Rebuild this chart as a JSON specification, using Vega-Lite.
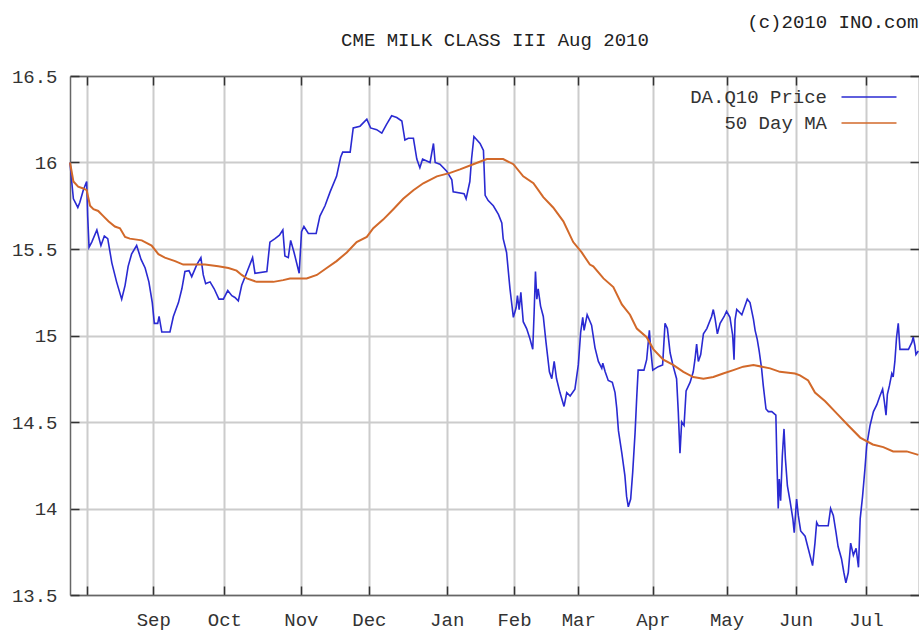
{
  "$schema": "https://vega.github.io/schema/vega-lite/v6.json",
  "width": 849,
  "height": 519,
  "autosize": {"type": "none"},
  "padding": {"left": 70, "top": 76, "right": 0, "bottom": 35},
  "background": "white",
  "title": {"text": "(c)2010 INO.com", "anchor": "end", "font": "Liberation Mono", "fontSize": 19, "fontWeight": "normal", "color": "#222", "offset": -2, "dx": -4},
  "datasets": {
    "price": [
      {"d":0,"v":16.00},{"d":0.5,"v":15.89},{"d":1.0,"v":15.79},{"d":2.3,"v":15.74},{"d":2.9,"v":15.77},{"d":3.9,"v":15.84},{"d":4.9,"v":15.89},{"d":5.2,"v":15.69},{"d":5.6,"v":15.51},{"d":6.4,"v":15.54},{"d":7.9,"v":15.61},{"d":9.1,"v":15.52},{"d":10.1,"v":15.575},{"d":11.1,"v":15.56},{"d":12.3,"v":15.42},{"d":13.7,"v":15.31},{"d":15.2,"v":15.21},{"d":16.2,"v":15.29},{"d":17.1,"v":15.40},{"d":18.1,"v":15.47},{"d":19.6,"v":15.52},{"d":20.9,"v":15.44},{"d":22.1,"v":15.39},{"d":23.2,"v":15.31},{"d":24.2,"v":15.19},{"d":24.8,"v":15.07},{"d":25.8,"v":15.07},{"d":26.2,"v":15.11},{"d":27.0,"v":15.02},{"d":29.4,"v":15.02},{"d":30.4,"v":15.11},{"d":31.9,"v":15.19},{"d":32.9,"v":15.27},{"d":33.8,"v":15.37},{"d":35.0,"v":15.375},{"d":35.8,"v":15.34},{"d":37.3,"v":15.41},{"d":38.5,"v":15.45},{"d":39.2,"v":15.35},{"d":39.9,"v":15.30},{"d":41.2,"v":15.31},{"d":42.4,"v":15.27},{"d":43.8,"v":15.21},{"d":45.1,"v":15.21},{"d":46.4,"v":15.26},{"d":47.6,"v":15.23},{"d":48.5,"v":15.22},{"d":49.5,"v":15.20},{"d":50.5,"v":15.29},{"d":51.5,"v":15.34},{"d":53.7,"v":15.45},{"d":54.4,"v":15.36},{"d":57.9,"v":15.37},{"d":58.8,"v":15.54},{"d":60.3,"v":15.56},{"d":61.6,"v":15.58},{"d":62.6,"v":15.61},{"d":63.2,"v":15.46},{"d":64.2,"v":15.45},{"d":64.9,"v":15.55},{"d":65.9,"v":15.48},{"d":67.4,"v":15.36},{"d":68.1,"v":15.60},{"d":68.8,"v":15.63},{"d":70.1,"v":15.59},{"d":72.4,"v":15.59},{"d":73.5,"v":15.69},{"d":75.0,"v":15.75},{"d":76.5,"v":15.83},{"d":78.4,"v":15.92},{"d":79.6,"v":16.03},{"d":80.2,"v":16.06},{"d":82.4,"v":16.06},{"d":83.3,"v":16.20},{"d":85.3,"v":16.21},{"d":87.3,"v":16.25},{"d":88.4,"v":16.20},{"d":90.2,"v":16.19},{"d":91.7,"v":16.17},{"d":93.1,"v":16.22},{"d":94.6,"v":16.27},{"d":96.1,"v":16.26},{"d":97.6,"v":16.24},{"d":98.5,"v":16.13},{"d":99.5,"v":16.14},{"d":101.0,"v":16.14},{"d":102.0,"v":16.02},{"d":102.9,"v":15.97},{"d":103.7,"v":16.02},{"d":105.9,"v":16.00},{"d":106.9,"v":16.11},{"d":107.4,"v":16.00},{"d":108.8,"v":15.99},{"d":110.8,"v":15.95},{"d":112.3,"v":15.90},{"d":112.7,"v":15.83},{"d":115.9,"v":15.82},{"d":116.5,"v":15.79},{"d":117.6,"v":15.89},{"d":118.1,"v":16.02},{"d":118.8,"v":16.15},{"d":120.6,"v":16.11},{"d":121.6,"v":16.07},{"d":122.1,"v":15.81},{"d":123.0,"v":15.78},{"d":124.5,"v":15.75},{"d":126.0,"v":15.70},{"d":127.0,"v":15.65},{"d":127.4,"v":15.56},{"d":128.4,"v":15.48},{"d":129.4,"v":15.27},{"d":130.4,"v":15.105},{"d":131.2,"v":15.16},{"d":131.6,"v":15.23},{"d":132.1,"v":15.15},{"d":132.6,"v":15.25},{"d":133.3,"v":15.08},{"d":134.3,"v":15.04},{"d":135.3,"v":14.98},{"d":136.1,"v":14.92},{"d":136.5,"v":15.13},{"d":136.9,"v":15.37},{"d":137.3,"v":15.21},{"d":137.7,"v":15.27},{"d":138.4,"v":15.17},{"d":139.2,"v":15.11},{"d":140.0,"v":14.96},{"d":141.0,"v":14.79},{"d":141.7,"v":14.75},{"d":142.4,"v":14.85},{"d":143.1,"v":14.75},{"d":144.1,"v":14.67},{"d":145.3,"v":14.59},{"d":146.1,"v":14.67},{"d":147.1,"v":14.65},{"d":148.5,"v":14.69},{"d":149.5,"v":14.83},{"d":150.2,"v":15.02},{"d":150.8,"v":15.105},{"d":151.2,"v":15.03},{"d":152.1,"v":15.12},{"d":153.4,"v":15.06},{"d":154.4,"v":14.93},{"d":155.4,"v":14.85},{"d":156.4,"v":14.81},{"d":156.7,"v":14.84},{"d":157.4,"v":14.79},{"d":158.3,"v":14.74},{"d":159.5,"v":14.73},{"d":160.3,"v":14.67},{"d":160.8,"v":14.58},{"d":161.3,"v":14.45},{"d":162.3,"v":14.32},{"d":163.2,"v":14.19},{"d":163.7,"v":14.07},{"d":164.2,"v":14.01},{"d":164.9,"v":14.055},{"d":165.5,"v":14.21},{"d":166.2,"v":14.44},{"d":166.7,"v":14.65},{"d":167.1,"v":14.80},{"d":168.8,"v":14.80},{"d":169.6,"v":14.86},{"d":170.4,"v":15.03},{"d":170.8,"v":14.92},{"d":171.4,"v":14.80},{"d":173.0,"v":14.82},{"d":174.3,"v":14.83},{"d":175.0,"v":15.07},{"d":175.7,"v":15.04},{"d":176.5,"v":14.90},{"d":177.3,"v":14.83},{"d":178.4,"v":14.75},{"d":178.9,"v":14.56},{"d":179.4,"v":14.32},{"d":179.9,"v":14.50},{"d":180.6,"v":14.48},{"d":181.2,"v":14.68},{"d":182.4,"v":14.73},{"d":183.3,"v":14.79},{"d":183.8,"v":14.86},{"d":184.3,"v":14.95},{"d":184.8,"v":14.85},{"d":185.5,"v":14.89},{"d":186.3,"v":15.01},{"d":187.3,"v":15.04},{"d":188.7,"v":15.11},{"d":189.2,"v":15.15},{"d":189.7,"v":15.10},{"d":190.4,"v":15.01},{"d":191.2,"v":15.07},{"d":192.4,"v":15.11},{"d":193.1,"v":15.14},{"d":194.1,"v":15.105},{"d":194.9,"v":15.00},{"d":195.3,"v":14.86},{"d":195.6,"v":15.09},{"d":196.1,"v":15.15},{"d":197.6,"v":15.12},{"d":198.5,"v":15.17},{"d":199.2,"v":15.21},{"d":200.0,"v":15.19},{"d":201.0,"v":15.095},{"d":201.5,"v":15.03},{"d":202.1,"v":14.98},{"d":202.7,"v":14.91},{"d":203.4,"v":14.81},{"d":203.9,"v":14.71},{"d":204.7,"v":14.575},{"d":205.4,"v":14.56},{"d":206.4,"v":14.56},{"d":207.6,"v":14.54},{"d":207.9,"v":14.28},{"d":208.3,"v":14.00},{"d":208.6,"v":14.17},{"d":209.0,"v":14.045},{"d":209.5,"v":14.305},{"d":210.0,"v":14.46},{"d":210.4,"v":14.29},{"d":211.0,"v":14.13},{"d":211.8,"v":14.04},{"d":212.6,"v":13.94},{"d":213.0,"v":13.86},{"d":213.7,"v":14.055},{"d":214.2,"v":13.96},{"d":214.9,"v":13.87},{"d":216.2,"v":13.84},{"d":217.1,"v":13.77},{"d":218.4,"v":13.67},{"d":219.1,"v":13.80},{"d":219.6,"v":13.92},{"d":220.1,"v":13.90},{"d":223.0,"v":13.90},{"d":223.7,"v":14.00},{"d":224.5,"v":13.96},{"d":225.3,"v":13.86},{"d":225.9,"v":13.78},{"d":226.9,"v":13.71},{"d":227.6,"v":13.63},{"d":228.2,"v":13.57},{"d":228.9,"v":13.63},{"d":229.6,"v":13.80},{"d":230.4,"v":13.73},{"d":231.2,"v":13.77},{"d":231.9,"v":13.66},{"d":232.4,"v":13.94},{"d":233.1,"v":14.07},{"d":233.8,"v":14.23},{"d":234.3,"v":14.36},{"d":235.3,"v":14.48},{"d":236.3,"v":14.56},{"d":237.3,"v":14.60},{"d":238.2,"v":14.65},{"d":239.0,"v":14.69},{"d":239.5,"v":14.62},{"d":240.0,"v":14.54},{"d":240.4,"v":14.66},{"d":241.0,"v":14.71},{"d":241.7,"v":14.78},{"d":242.1,"v":14.76},{"d":242.6,"v":14.85},{"d":243.1,"v":14.99},{"d":243.6,"v":15.07},{"d":244.1,"v":14.92},{"d":246.6,"v":14.92},{"d":247.6,"v":14.96},{"d":248.0,"v":14.99},{"d":248.5,"v":14.94},{"d":248.8,"v":14.89},{"d":249.5,"v":14.91}
    ],
    "ma": [
      {"d":0,"v":16.00},{"d":1.0,"v":15.89},{"d":2.4,"v":15.86},{"d":3.9,"v":15.85},{"d":4.9,"v":15.84},{"d":5.9,"v":15.75},{"d":6.9,"v":15.73},{"d":8.3,"v":15.72},{"d":9.8,"v":15.69},{"d":11.3,"v":15.66},{"d":13.2,"v":15.63},{"d":14.7,"v":15.62},{"d":16.2,"v":15.57},{"d":17.6,"v":15.56},{"d":21.1,"v":15.55},{"d":24.0,"v":15.52},{"d":26.0,"v":15.47},{"d":27.9,"v":15.45},{"d":30.9,"v":15.43},{"d":33.3,"v":15.41},{"d":39.7,"v":15.41},{"d":43.6,"v":15.40},{"d":46.6,"v":15.39},{"d":49.0,"v":15.375},{"d":50.5,"v":15.35},{"d":52.0,"v":15.33},{"d":54.9,"v":15.31},{"d":59.8,"v":15.31},{"d":62.7,"v":15.32},{"d":64.7,"v":15.33},{"d":69.6,"v":15.33},{"d":72.6,"v":15.35},{"d":75.5,"v":15.39},{"d":78.4,"v":15.43},{"d":81.4,"v":15.48},{"d":84.3,"v":15.54},{"d":87.3,"v":15.57},{"d":89.2,"v":15.62},{"d":92.1,"v":15.67},{"d":95.1,"v":15.73},{"d":98.0,"v":15.79},{"d":101.0,"v":15.84},{"d":103.9,"v":15.88},{"d":107.9,"v":15.92},{"d":111.8,"v":15.94},{"d":114.7,"v":15.96},{"d":118.6,"v":15.99},{"d":122.6,"v":16.02},{"d":127.4,"v":16.02},{"d":130.4,"v":15.99},{"d":133.3,"v":15.92},{"d":136.3,"v":15.88},{"d":139.2,"v":15.80},{"d":142.1,"v":15.74},{"d":145.1,"v":15.66},{"d":148.0,"v":15.54},{"d":150.5,"v":15.48},{"d":152.9,"v":15.41},{"d":153.9,"v":15.40},{"d":156.9,"v":15.33},{"d":159.8,"v":15.28},{"d":162.3,"v":15.18},{"d":164.7,"v":15.12},{"d":166.7,"v":15.04},{"d":169.6,"v":14.99},{"d":171.6,"v":14.92},{"d":174.5,"v":14.86},{"d":177.4,"v":14.83},{"d":180.4,"v":14.79},{"d":183.3,"v":14.76},{"d":186.3,"v":14.75},{"d":189.2,"v":14.76},{"d":192.1,"v":14.78},{"d":195.1,"v":14.80},{"d":198.0,"v":14.82},{"d":201.0,"v":14.83},{"d":205.9,"v":14.81},{"d":208.8,"v":14.79},{"d":213.2,"v":14.78},{"d":214.7,"v":14.77},{"d":217.1,"v":14.74},{"d":219.1,"v":14.67},{"d":222.1,"v":14.62},{"d":225.5,"v":14.55},{"d":228.9,"v":14.48},{"d":232.4,"v":14.41},{"d":236.1,"v":14.37},{"d":239.2,"v":14.355},{"d":242.1,"v":14.33},{"d":246.1,"v":14.33},{"d":249.5,"v":14.31}
    ]
  },
  "config": {
    "view": {"stroke": null},
    "font": "Liberation Mono",
    "axis": {
      "labelFont": "Liberation Mono", "labelFontSize": 19, "labelColor": "#333",
      "titleFont": "Liberation Mono", "titleFontSize": 19, "titleFontWeight": "normal", "titleColor": "#222",
      "domainColor": "#666", "domainWidth": 1.5,
      "tickColor": "#333", "tickWidth": 1.5, "tickSize": -9,
      "gridColor": "#cccccc", "gridWidth": 2, "gridOpacity": 1
    },
    "legend": {
      "orient": "none", "legendX": 789, "legendY": 11,
      "labelFont": "Liberation Mono", "labelFontSize": 19, "labelColor": "#333",
      "labelAlign": "right", "labelOffset": -52, "labelLimit": 400,
      "symbolType": "M-3,0H3", "symbolSize": 336, "symbolStrokeWidth": 1.5,
      "rowPadding": 6, "title": null, "padding": 0
    }
  },
  "layer": [
    {
      "data": {"name": "price"},
      "mark": {"type": "line", "strokeWidth": 1.6, "interpolate": "linear"},
      "encoding": {
        "x": {"field": "d", "type": "quantitative",
          "scale": {"domain": [0, 249.7], "nice": false, "zero": false},
          "axis": {"orient": "bottom", "title": null, "grid": true,
            "values": [4.9, 24.5, 45.4, 67.9, 87.9, 110.8, 130.6, 149.5, 171.4, 193.1, 213.4, 234.1],
            "labelExpr": "datum.value < 10 ? '' : datum.value < 30 ? 'Sep' : datum.value < 50 ? 'Oct' : datum.value < 70 ? 'Nov' : datum.value < 100 ? 'Dec' : datum.value < 120 ? 'Jan' : datum.value < 140 ? 'Feb' : datum.value < 160 ? 'Mar' : datum.value < 180 ? 'Apr' : datum.value < 200 ? 'May' : datum.value < 220 ? 'Jun' : 'Jul'",
            "labelPadding": 24, "labelFlush": false, "labelOverlap": false}},
        "y": {"field": "v", "type": "quantitative",
          "scale": {"domain": [13.5, 16.5], "nice": false, "zero": false},
          "axis": {"orient": "left", "title": null, "grid": true,
            "values": [13.5, 14, 14.5, 15, 15.5, 16, 16.5], "format": "~g",
            "labelPadding": 22, "labelFlush": false, "labelOverlap": false}},
        "color": {"datum": "DA.Q10 Price", "type": "nominal",
          "scale": {"domain": ["DA.Q10 Price", "50 Day MA"], "range": ["#2a2ad2", "#d2692a"]},
          "legend": {"title": null}}
      }
    },
    {
      "data": {"name": "ma"},
      "mark": {"type": "line", "strokeWidth": 2, "interpolate": "linear"},
      "encoding": {
        "x": {"field": "d", "type": "quantitative",
          "axis": {"orient": "top", "title": "CME MILK CLASS III Aug 2010", "titlePadding": 26, "grid": false, "labels": false,
            "values": [4.9, 24.5, 45.4, 67.9, 87.9, 110.8, 130.6, 149.5, 171.4, 193.1, 213.4, 234.1]}},
        "y": {"field": "v", "type": "quantitative",
          "axis": {"orient": "right", "title": null, "grid": false, "labels": false,
            "values": [13.5, 14, 14.5, 15, 15.5, 16, 16.5]}},
        "color": {"datum": "50 Day MA", "type": "nominal"}
      }
    }
  ],
  "resolve": {"axis": {"x": "independent", "y": "independent"}}
}
